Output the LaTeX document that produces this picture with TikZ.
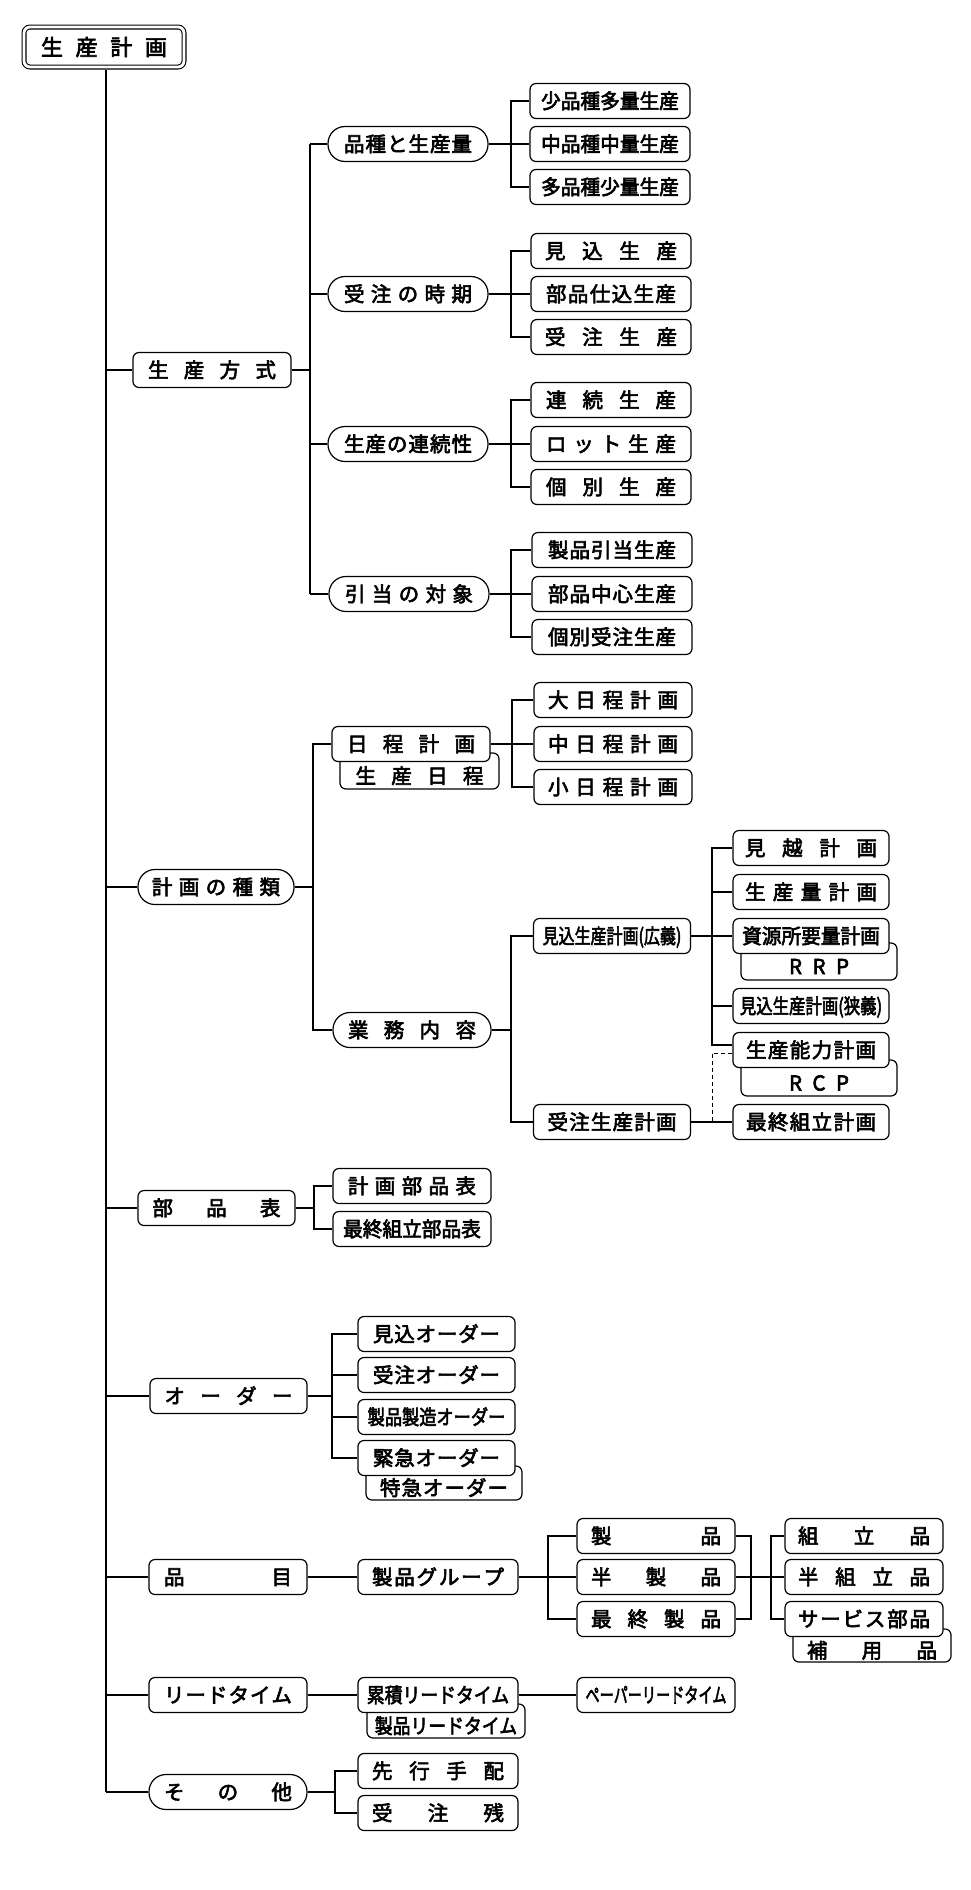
\documentclass[tikz,border=0pt]{standalone}
\usepackage{fontspec}
\setmainfont{Noto Sans CJK JP}[FakeBold=3]
\usepackage{graphicx}
\usetikzlibrary{calc}
\makeatletter
\def\sprd@loop#1{\ifx#1\relax\else\hfil#1\expandafter\sprd@loop\fi}
\def\sprd@first#1{#1\sprd@loop}
\newcommand\spreadtxt[2]{\makebox[#1][s]{\sprd@first#2\relax}}
\makeatother
\newcommand\condtxt[2]{\scalebox{#1}[1]{#2}}
\begin{document}
\begin{tikzpicture}[x=1pt,y=-1pt,
  conn/.style={line width=1.2pt},
  boxn/.style={draw,line width=1.2pt,rounded corners=6pt,fill=white,inner sep=0pt,
    minimum width=158pt,minimum height=35pt,text height=17.6pt,text depth=2.4pt,
    font=\fontsize{20.5}{24}\selectfont},
  stad/.style={boxn,rounded corners=17pt},
  behindn/.style={boxn,text height=29pt,text depth=4pt},
]
\useasboundingbox (0,0) rectangle (970,1890);
\fill[white] (0,0) rectangle (970,1890);

% vertical guide coordinates
\coordinate (m) at (106,0);
\coordinate (v2) at (310,0);
\coordinate (vl) at (511,0);
\coordinate (v3) at (313,0);
\coordinate (v4) at (512,0);
\coordinate (v4b) at (511,0);
\coordinate (v5) at (712,0);
\coordinate (v6) at (314,0);
\coordinate (v7) at (332,0);
\coordinate (v8) at (548,0);
\coordinate (rb) at (751,0);
\coordinate (v9) at (771,0);
\coordinate (v10) at (335,0);

% root
\node[boxn,double,double distance=2.8pt,line width=1.1pt,minimum width=160pt,minimum height=40pt,
  text height=19.4pt,text depth=2.6pt,font=\fontsize{22}{26}\selectfont] (root) at (104,47) {\spreadtxt{126pt}{生産計画}};

% level 1
\node[boxn] (s1) at (212,370) {\spreadtxt{128pt}{生産方式}};
\node[stad,minimum width=156pt] (s2) at (216,887) {\spreadtxt{128pt}{計画の種類}};
\node[boxn,minimum width=157pt] (s3) at (216.5,1208) {\spreadtxt{128pt}{部品表}};
\node[boxn,minimum width=157pt] (s4) at (228.5,1396) {\spreadtxt{128pt}{オーダー}};
\node[boxn] (s5) at (228,1577) {\spreadtxt{128pt}{品目}};
\node[boxn] (s6) at (228,1695) {\spreadtxt{128pt}{リードタイム}};
\node[stad] (s7) at (228,1792) {\spreadtxt{128pt}{その他}};

% 生産方式
\node[stad,minimum width=160pt] (a1) at (408,144) {\spreadtxt{128pt}{品種と生産量}};
\node[stad,minimum width=160pt] (a2) at (408,294) {\spreadtxt{128pt}{受注の時期}};
\node[stad,minimum width=160pt] (a3) at (408,444) {\spreadtxt{128pt}{生産の連続性}};
\node[stad,minimum width=160pt] (a4) at (409,594) {\spreadtxt{128pt}{引当の対象}};

\node[boxn,minimum width=160pt] (a11) at (610,101) {\condtxt{0.96}{少品種多量生産}};
\node[boxn,minimum width=160pt] (a12) at (610,144) {\condtxt{0.96}{中品種中量生産}};
\node[boxn,minimum width=160pt] (a13) at (610,187) {\condtxt{0.96}{多品種少量生産}};
\node[boxn,minimum width=160pt] (a21) at (611,251) {\spreadtxt{132pt}{見込生産}};
\node[boxn,minimum width=160pt] (a22) at (611,294) {\spreadtxt{130pt}{部品仕込生産}};
\node[boxn,minimum width=160pt] (a23) at (611,337) {\spreadtxt{132pt}{受注生産}};
\node[boxn,minimum width=160pt] (a31) at (611,400) {\spreadtxt{130pt}{連続生産}};
\node[boxn,minimum width=160pt] (a32) at (611,444) {\spreadtxt{130pt}{ロット生産}};
\node[boxn,minimum width=160pt] (a33) at (611,487) {\spreadtxt{130pt}{個別生産}};
\node[boxn,minimum width=160pt] (a41) at (612,550) {\spreadtxt{128pt}{製品引当生産}};
\node[boxn,minimum width=160pt] (a42) at (612,594) {\spreadtxt{128pt}{部品中心生産}};
\node[boxn,minimum width=160pt] (a43) at (612,637) {\spreadtxt{128pt}{個別受注生産}};

% 計画の種類
\node[behindn,minimum width=159pt,minimum height=36pt] (b1x) at (419.5,771) {\spreadtxt{128pt}{生産日程}};
\node[boxn] (b1) at (411,744) {\spreadtxt{128pt}{日程計画}};
\node[stad] (b2) at (412,1030) {\spreadtxt{128pt}{業務内容}};
\node[boxn] (b11) at (613,700) {\spreadtxt{130pt}{大日程計画}};
\node[boxn] (b12) at (613,744) {\spreadtxt{130pt}{中日程計画}};
\node[boxn] (b13) at (613,787) {\spreadtxt{130pt}{小日程計画}};
\node[boxn,minimum width=157pt] (b21) at (612,936) {\condtxt{0.78}{見込生産計画(広義)}};
\node[boxn,minimum width=157pt] (b22) at (612,1122) {\spreadtxt{129pt}{受注生産計画}};

\node[boxn,minimum width=156pt] (c1) at (811,848) {\spreadtxt{132pt}{見越計画}};
\node[boxn,minimum width=156pt] (c2) at (811,892) {\spreadtxt{132pt}{生産量計画}};
\node[behindn,minimum width=156pt,minimum height=37pt] (c3x) at (819,961.5) {\spreadtxt{60pt}{RRP}};
\node[boxn,minimum width=156pt] (c3) at (811,936) {\condtxt{0.96}{資源所要量計画}};
\node[boxn,minimum width=156pt] (c4) at (811,1006) {\condtxt{0.8}{見込生産計画(狭義)}};
\node[behindn,minimum width=156pt,minimum height=36pt] (c5x) at (819,1078) {\spreadtxt{60pt}{RCP}};
\node[boxn,minimum width=156pt] (c5) at (811,1050) {\spreadtxt{130pt}{生産能力計画}};
\node[boxn,minimum width=156pt] (c6) at (811,1122) {\spreadtxt{130pt}{最終組立計画}};

% 部品表
\node[boxn] (d1) at (412,1186) {\spreadtxt{128pt}{計画部品表}};
\node[boxn] (d2) at (412,1229) {\condtxt{0.96}{最終組立部品表}};

% オーダー
\node[boxn,minimum width=157pt] (e1) at (436.5,1334) {\spreadtxt{127pt}{見込オーダー}};
\node[boxn,minimum width=157pt] (e2) at (436.5,1375) {\spreadtxt{127pt}{受注オーダー}};
\node[boxn,minimum width=157pt] (e3) at (436.5,1417) {\condtxt{0.84}{製品製造オーダー}};
\node[behindn,minimum width=156pt,minimum height=34pt] (e4x) at (444,1483) {\spreadtxt{128pt}{特急オーダー}};
\node[boxn,minimum width=157pt] (e4) at (436.5,1458) {\spreadtxt{127pt}{緊急オーダー}};

% 品目
\node[boxn,minimum width=160pt] (g1) at (438,1577) {\spreadtxt{132pt}{製品グループ}};
\node[boxn] (g11) at (656,1536) {\spreadtxt{130pt}{製品}};
\node[boxn] (g12) at (656,1577) {\spreadtxt{130pt}{半製品}};
\node[boxn] (g13) at (656,1619) {\spreadtxt{130pt}{最終製品}};
\node[behindn,minimum width=158pt,minimum height=33pt] (g23x) at (872,1645.5) {\spreadtxt{130pt}{補用品}};
\node[boxn] (g21) at (864,1536) {\spreadtxt{132pt}{組立品}};
\node[boxn] (g22) at (864,1577) {\spreadtxt{132pt}{半組立品}};
\node[boxn] (g23) at (864,1619) {\spreadtxt{132pt}{サービス部品}};

% リードタイム
\node[behindn,minimum width=158pt,minimum height=34pt] (f1x) at (446,1721) {\condtxt{0.87}{製品リードタイム}};
\node[boxn,minimum width=160pt] (f1) at (438,1695) {\condtxt{0.87}{累積リードタイム}};
\node[boxn] (f2) at (656,1695) {\condtxt{0.69}{ペーパーリードタイム}};

% その他
\node[boxn,minimum width=160pt] (h1) at (438,1771) {\spreadtxt{132pt}{先行手配}};
\node[boxn,minimum width=160pt] (h2) at (438,1813) {\spreadtxt{132pt}{受注残}};

% ---------- connectors ----------
\draw[conn] ($(root.south -| m)+(0,2.5)$) -- (s7.west -| m);
\foreach \n in {s1,s2,s3,s4,s5,s6,s7} \draw[conn] (\n.west) -- (\n.west -| m);

% 生産方式
\draw[conn] (s1.east) -- (s1.east -| v2);
\draw[conn] (a1.west -| v2) -- (a4.west -| v2);
\foreach \n in {a1,a2,a3,a4} \draw[conn] (\n.west) -- (\n.west -| v2);
\foreach \p/\x/\y/\z in {a1/a11/a12/a13,a2/a21/a22/a23,a3/a31/a32/a33,a4/a41/a42/a43}{
  \draw[conn] (\p.east) -- (\y.west);
  \draw[conn] (\x.west) -| (\z.west -| vl) -- (\z.west);
}

% 計画の種類
\draw[conn] (s2.east) -- (s2.east -| v3);
\draw[conn] (b1.west) -| (b2.west -| v3) -- (b2.west);
\draw[conn] (b1.east) -- (b12.west);
\draw[conn] (b11.west) -| (b13.west -| v4) -- (b13.west);
\draw[conn] (b2.east) -- (b2.east -| v4b);
\draw[conn] (b21.west) -| (b22.west -| v4b) -- (b22.west);
\draw[conn] (b21.east) -- (c3.west);
\draw[conn] (c1.west) -| ($(c5.west -| v5)+(0,-5)$) -- ($(c5.west)+(0,-5)$);
\draw[conn] (c2.west) -- (c2.west -| v5);
\draw[conn] (c4.west) -- (c4.west -| v5);
\draw[line width=1pt,dash pattern=on 4pt off 3pt] ($(c5.west)+(0,3)$) -| (b22.east -| v5);
\draw[conn] (b22.east) -- (c6.west);

% 部品表
\draw[conn] (s3.east) -- (s3.east -| v6);
\draw[conn] (d1.west) -| (d2.west -| v6) -- (d2.west);

% オーダー
\draw[conn] (s4.east) -- (s4.east -| v7);
\draw[conn] (e1.west) -| (e4.west -| v7) -- (e4.west);
\draw[conn] (e2.west) -- (e2.west -| v7);
\draw[conn] (e3.west) -- (e3.west -| v7);

% 品目
\draw[conn] (s5.east) -- (g1.west);
\draw[conn] (g1.east) -- (g12.west);
\draw[conn] (g11.west) -| (g13.west -| v8) -- (g13.west);
\draw[conn] (g11.east) -| (g13.east -| rb) -- (g13.east);
\draw[conn] (g12.east) -- (g22.west);
\draw[conn] (g21.west) -| (g23.west -| v9) -- (g23.west);

% リードタイム
\draw[conn] (s6.east) -- (f1.west);
\draw[conn] (f1.east) -- (f2.west);

% その他
\draw[conn] (s7.east) -- (s7.east -| v10);
\draw[conn] (h1.west) -| (h2.west -| v10) -- (h2.west);
\end{tikzpicture}
\end{document}
